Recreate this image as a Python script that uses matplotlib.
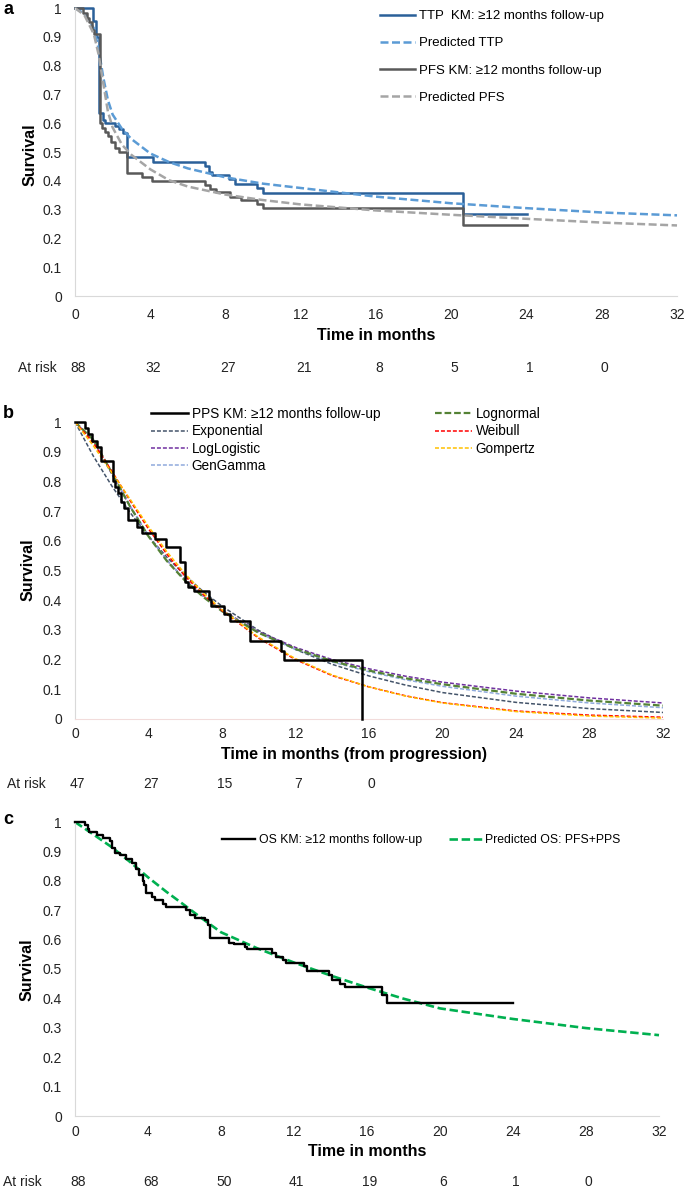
import matplotlib.pyplot as plt
from matplotlib.transforms import blended_transform_factory

plt.rcParams['font.family'] = ['Liberation Sans', 'DejaVu Sans']

W, H = 685, 1188

########################################################
# DATA
########################################################

# Panel a - TTP / PFS Kaplan-Meier steps (months, survival)
ttp_km_t = [0, 0.94, 1.12, 1.3, 1.5, 1.62, 2.13, 2.35, 2.57, 2.75, 4.13, 6.9, 7.1, 7.3,
            8.2, 8.5, 9.7, 10.0, 20.6, 24.0]
ttp_km_s = [1, 0.956, 0.90, 0.635, 0.61, 0.60, 0.59, 0.58, 0.567, 0.484, 0.467, 0.452,
            0.432, 0.42, 0.405, 0.39, 0.375, 0.358, 0.283, 0.283]

pfs_km_t = [0, 0.44, 0.62, 0.76, 0.89, 1.0, 1.33, 1.45, 1.6, 1.75, 1.9, 2.1, 2.35, 2.75,
            3.55, 4.08, 6.9, 7.2, 7.5, 8.24, 8.8, 9.66, 10.0, 20.6, 24.0]
pfs_km_s = [1, 0.982, 0.965, 0.95, 0.925, 0.91, 0.60, 0.585, 0.57, 0.555, 0.535, 0.515,
            0.50, 0.426, 0.414, 0.40, 0.385, 0.37, 0.36, 0.345, 0.335, 0.32, 0.305,
            0.245, 0.245]

# Panel a - predicted curves
pred_a_t = [0, 0.5, 1.0, 1.25, 1.5, 1.75, 2.0, 2.5, 3, 4, 5, 6, 8, 10, 12, 16, 20, 24, 28, 32]
ttp_pred = [1, 0.98, 0.93, 0.86, 0.76, 0.68, 0.63, 0.58, 0.545, 0.495, 0.465, 0.443,
            0.412, 0.39, 0.375, 0.345, 0.322, 0.305, 0.29, 0.28]
pfs_pred = [1, 0.975, 0.91, 0.84, 0.74, 0.64, 0.585, 0.525, 0.49, 0.44, 0.402, 0.38,
            0.352, 0.333, 0.318, 0.297, 0.282, 0.268, 0.255, 0.245]

risk_a = [88, 32, 27, 21, 8, 5, 1, 0]

# Panel b - post-progression survival
pps_km_t = [0, 0.54, 0.72, 0.9, 1.18, 1.4, 2.08, 2.2, 2.35, 2.5, 2.65, 2.9, 3.4, 3.63,
            4.35, 4.95, 5.7, 6.0, 6.15, 6.45, 7.27, 7.4, 8.1, 8.43, 9.5, 11.2, 11.4, 15.6]
pps_km_s = [1, 0.98, 0.96, 0.935, 0.915, 0.87, 0.80, 0.78, 0.76, 0.73, 0.71, 0.67, 0.645,
            0.625, 0.605, 0.578, 0.53, 0.46, 0.445, 0.43, 0.405, 0.38, 0.355, 0.33,
            0.262, 0.23, 0.2, 0.0]

fit_t = [0, 1, 2, 3, 4, 5, 6, 7, 8, 10, 12, 14, 16, 18, 20, 24, 28, 32]
exponential = [1, 0.885, 0.785, 0.695, 0.615, 0.545, 0.483, 0.428, 0.38, 0.298, 0.234,
               0.184, 0.145, 0.114, 0.089, 0.056, 0.035, 0.022]
lognormal = [1, 0.94, 0.83, 0.715, 0.615, 0.532, 0.465, 0.41, 0.363, 0.29, 0.236, 0.195,
             0.163, 0.137, 0.117, 0.085, 0.062, 0.045]
loglogistic = [1, 0.935, 0.825, 0.715, 0.617, 0.535, 0.468, 0.413, 0.366, 0.294, 0.241,
               0.2, 0.169, 0.144, 0.124, 0.094, 0.071, 0.054]
gengamma = [1, 0.94, 0.83, 0.718, 0.618, 0.535, 0.468, 0.412, 0.365, 0.29, 0.234, 0.192,
            0.159, 0.132, 0.11, 0.077, 0.054, 0.038]
weibull = [1, 0.93, 0.835, 0.735, 0.64, 0.555, 0.48, 0.418, 0.365, 0.272, 0.2, 0.146,
           0.108, 0.078, 0.055, 0.027, 0.013, 0.006]
gompertz = [1, 0.92, 0.83, 0.74, 0.648, 0.563, 0.488, 0.423, 0.368, 0.275, 0.203, 0.148,
            0.108, 0.077, 0.054, 0.025, 0.01, 0.003]

risk_b = [47, 27, 15, 7, 0]

# Panel c - overall survival
os_km_t = [0, 0.55, 0.7, 0.75, 1.2, 1.55, 1.9, 2.05, 2.2, 2.45, 2.8, 3.1, 3.36, 3.5, 3.7,
           3.8, 3.9, 4.2, 4.4, 4.8, 5.0, 6.1, 6.3, 6.55, 7.1, 7.3, 7.4, 8.45, 8.7, 9.3,
           9.4, 10.8, 11.0, 11.4, 11.55, 12.55, 12.7, 13.9, 14.1, 14.5, 14.8, 16.8,
           17.1, 24.0]
os_km_s = [1, 0.99, 0.975, 0.966, 0.955, 0.945, 0.935, 0.91, 0.895, 0.887, 0.875, 0.86,
           0.84, 0.82, 0.80, 0.785, 0.76, 0.745, 0.735, 0.72, 0.71, 0.70, 0.685, 0.675,
           0.665, 0.65, 0.604, 0.59, 0.584, 0.575, 0.567, 0.553, 0.54, 0.53, 0.519,
           0.51, 0.493, 0.48, 0.462, 0.45, 0.44, 0.41, 0.383, 0.383]

os_pred_t = [0, 1, 2, 3, 4, 5, 6, 7, 8, 10, 12, 14, 16, 18, 20, 24, 28, 32]
os_pred = [1, 0.958, 0.915, 0.865, 0.812, 0.763, 0.717, 0.67, 0.625, 0.57, 0.522, 0.478,
           0.437, 0.399, 0.366, 0.33, 0.299, 0.275]

risk_c = [88, 68, 50, 41, 19, 6, 1, 0]

xticks = list(range(0, 33, 4))
yticks = [i / 10 for i in range(11)]
ylabels = ['0'] + ['0.%d' % i for i in range(1, 10)] + ['1']

########################################################
# FIGURE
########################################################

fig = plt.figure(figsize=(W / 100, H / 100), dpi=100)


def rect(left, top, right, bottom):
    return [left / W, 1 - bottom / H, (right - left) / W, (bottom - top) / H]


def fy(py):
    return 1 - py / H


def setup(ax, xpad, spine_bottom='#D9D9D9'):
    ax.set_xlim(0, 32)
    ax.set_ylim(0, 1)
    ax.set_xticks(xticks)
    ax.set_yticks(yticks)
    ax.set_yticklabels(ylabels)
    ax.spines['top'].set_visible(False)
    ax.spines['right'].set_visible(False)
    ax.spines['left'].set_color('#D9D9D9')
    ax.spines['bottom'].set_color(spine_bottom)
    ax.tick_params(axis='y', length=0, labelsize=10, pad=9.5, labelcolor='#222222')
    ax.tick_params(axis='x', length=0, labelsize=10, pad=xpad, labelcolor='#222222')


def at_risk(ax, counts, py, label_x):
    tr = blended_transform_factory(ax.transData, fig.transFigure)
    for i, n in enumerate(counts):
        ax.text(xticks[i] + 0.15, fy(py), str(n), transform=tr, ha='center', va='center',
                fontsize=10, color='#222222')
    fig.text(label_x / W, fy(py), 'At risk', ha='left', va='center', fontsize=10,
             color='#222222')


dash_a = (0, (3.2, 1.4))
dash_b = (0, (2.6, 1.3))

# ---------------- Panel a ----------------
ax1 = fig.add_axes(rect(75, 8, 677, 296))
setup(ax1, 8.5)
ax1.plot(ttp_km_t, ttp_km_s, drawstyle='steps-post', color='#2A6099', lw=1.8,
         label='TTP  KM: \u226512 months follow-up', clip_on=False)
ax1.plot(pred_a_t, ttp_pred, color='#5B9BD5', lw=1.8, linestyle=dash_a,
         label='Predicted TTP', clip_on=False)
ax1.plot(pfs_km_t, pfs_km_s, drawstyle='steps-post', color='#595959', lw=1.8,
         label='PFS KM: \u226512 months follow-up', clip_on=False)
ax1.plot(pred_a_t, pfs_pred, color='#A5A5A5', lw=1.8, linestyle=dash_a,
         label='Predicted PFS', clip_on=False)
ax1.legend(loc='upper left', bbox_to_anchor=(380 / W, fy(10)), bbox_transform=fig.transFigure,
           frameon=False, fontsize=9.5, handlelength=2.65, handletextpad=0.3,
           labelspacing=1.13, borderpad=0, borderaxespad=0)
fig.text(376 / W, fy(336), 'Time in months', ha='center', va='center', fontsize=11.5,
         fontweight='bold')
fig.text(30 / W, fy(155), 'Survival', ha='center', va='center', rotation=90,
         fontsize=11.5, fontweight='bold')
fig.text(3 / W, fy(9), 'a', ha='left', va='center', fontsize=13, fontweight='bold')
at_risk(ax1, risk_a, 368, 18)

# ---------------- Panel b ----------------
ax2 = fig.add_axes(rect(75, 422, 663, 719))
setup(ax2, 6, spine_bottom='#F2DCDB')
ax2.plot(pps_km_t, pps_km_s, drawstyle='steps-post', color='black', lw=1.8,
         label='PPS KM: \u226512 months follow-up', clip_on=False, zorder=3)
ax2.plot(fit_t, exponential, color='#44546A', lw=1.1, linestyle=dash_b, label='Exponential')
ax2.plot(fit_t, loglogistic, color='#7030A0', lw=1.1, linestyle=dash_b, label='LogLogistic')
ax2.plot(fit_t, gengamma, color='#8FAADC', lw=1.1, linestyle=dash_b, label='GenGamma')
ax2.plot(fit_t, lognormal, color='#548235', lw=1.6, linestyle=(0, (3, 1.3)), label='Lognormal')
ax2.plot(fit_t, weibull, color='#FF0000', lw=1.1, linestyle=dash_b, label='Weibull')
ax2.plot(fit_t, gompertz, color='#FFC000', lw=1.1, linestyle=dash_b, label='Gompertz')
ax2.legend(loc='upper left', bbox_to_anchor=(151 / W, fy(407)), bbox_transform=fig.transFigure,
           ncol=2, frameon=False, fontsize=9.8, handlelength=2.7, handletextpad=0.3,
           labelspacing=0.25, columnspacing=4.0, borderpad=0, borderaxespad=0)
fig.text(354 / W, fy(755), 'Time in months (from progression)', ha='center', va='center',
         fontsize=11.5, fontweight='bold')
fig.text(28 / W, fy(570), 'Survival', ha='center', va='center', rotation=90,
         fontsize=11.5, fontweight='bold')
fig.text(3 / W, fy(413), 'b', ha='left', va='center', fontsize=13, fontweight='bold')
at_risk(ax2, risk_b, 784, 7)

# ---------------- Panel c ----------------
ax3 = fig.add_axes(rect(75, 822, 659, 1116))
setup(ax3, 6.5)
ax3.plot(os_km_t, os_km_s, drawstyle='steps-post', color='black', lw=1.7,
         label='OS KM: \u226512 months follow-up', clip_on=False, zorder=3)
ax3.plot(os_pred_t, os_pred, color='#00B050', lw=1.9, linestyle=dash_a,
         label='Predicted OS: PFS+PPS', clip_on=False)
ax3.legend(loc='upper left', bbox_to_anchor=(222 / W, fy(834)), bbox_transform=fig.transFigure,
           ncol=2, frameon=False, fontsize=8.8, handlelength=2.7, handletextpad=0.3,
           columnspacing=2.2, borderpad=0, borderaxespad=0)
fig.text(367 / W, fy(1152), 'Time in months', ha='center', va='center', fontsize=11.5,
         fontweight='bold')
fig.text(27 / W, fy(970), 'Survival', ha='center', va='center', rotation=90,
         fontsize=11.5, fontweight='bold')
fig.text(3 / W, fy(819), 'c', ha='left', va='center', fontsize=13, fontweight='bold')
at_risk(ax3, risk_c, 1182, 3)

plt.savefig('out.png', dpi=100)
